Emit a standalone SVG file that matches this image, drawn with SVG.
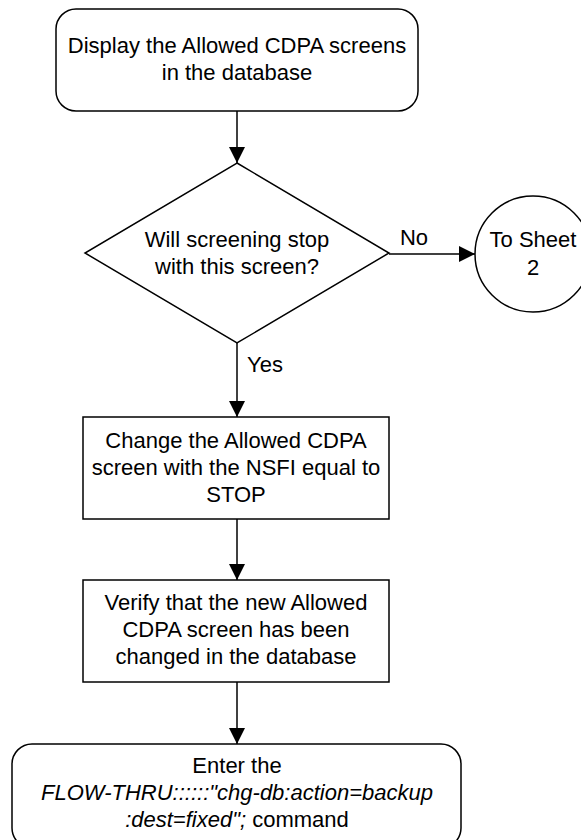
<svg xmlns="http://www.w3.org/2000/svg" width="581" height="840" viewBox="0 0 581 840">
<style>
.s{fill:#fff;stroke:#000;stroke-width:1.5}
.t{font-family:"Liberation Sans",Arial,sans-serif;font-size:22px;fill:#000;text-anchor:middle}
.c{stroke:#000;stroke-width:1.5;fill:none}
.i{font-style:italic}
</style>
<defs>
<marker id="ah" markerUnits="userSpaceOnUse" markerWidth="16" markerHeight="16" refX="16" refY="8" orient="auto">
<path d="M0,0 L16,8 L0,16 z" fill="#000"/>
</marker>
</defs>
<g id="connectors">
<line class="c" x1="237" y1="111" x2="237" y2="163" marker-end="url(#ah)"/>
<line class="c" x1="389" y1="254" x2="475" y2="254" marker-end="url(#ah)"/>
<text class="t" x="414" y="245">No</text>
<line class="c" x1="237" y1="343" x2="237" y2="417" marker-end="url(#ah)"/>
<text class="t" x="265" y="372">Yes</text>
<line class="c" x1="237" y1="519" x2="237" y2="580" marker-end="url(#ah)"/>
<line class="c" x1="237" y1="682" x2="237" y2="744" marker-end="url(#ah)"/>
</g>
<g id="start">
<rect class="s" x="56" y="9" width="362" height="102" rx="20" ry="20"/>
<text class="t" x="237" y="53">Display the Allowed CDPA screens</text>
<text class="t" x="237" y="80">in the database</text>
</g>
<g id="decision">
<polygon class="s" points="237,163 389,253 237,343 85,253"/>
<text class="t" x="237" y="247">Will screening stop</text>
<text class="t" x="237" y="274">with this screen?</text>
</g>
<g id="sheet2">
<circle class="s" cx="533" cy="254" r="58"/>
<text class="t" x="533" y="247">To Sheet</text>
<text class="t" x="533" y="275">2</text>
</g>
<g id="change">
<rect class="s" x="83" y="417" width="306" height="102"/>
<text class="t" x="236" y="448">Change the Allowed CDPA</text>
<text class="t" x="236" y="475">screen with the NSFI equal to</text>
<text class="t" x="236" y="502">STOP</text>
</g>
<g id="verify">
<rect class="s" x="83" y="580" width="306" height="102"/>
<text class="t" x="236" y="610">Verify that the new Allowed</text>
<text class="t" x="236" y="637">CDPA screen has been</text>
<text class="t" x="236" y="664">changed in the database</text>
</g>
<g id="enter">
<rect class="s" x="12" y="744" width="449" height="104" rx="20" ry="20"/>
<text class="t" x="237" y="773">Enter the</text>
<text class="t i" x="237" y="800">FLOW-THRU::::::"chg-db:action=backup</text>
<text class="t" x="237" y="827"><tspan class="i">:dest=fixed";</tspan> command</text>
</g>
</svg>
